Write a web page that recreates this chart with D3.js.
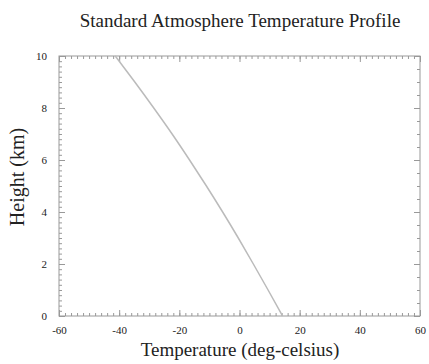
<!DOCTYPE html>
<html>
<head>
<meta charset="utf-8">
<script src="https://cdn.jsdelivr.net/npm/d3@7"></script>
<style>
  body { margin: 0; background: #fff; }
  text { font-family: "Liberation Serif", "Times New Roman", serif; fill: #222; }
</style>
</head>
<body>
<script>
// chart size
const width = 429;
const height = 364;

// data: height in km, temperature in deg C
const heights = [0, 1, 2, 3, 4, 5, 6, 7, 8, 9, 10];
const temps = [14.3, 9.5, 4.6, -0.4, -5.6, -11.0, -16.6, -22.4, -28.5, -34.8, -41.3];

// tick values
const xTicks = [-60, -40, -20, 0, 20, 40, 60];
const yTicks = [0, 2, 4, 6, 8, 10];

// plot box
const boxL = 59, boxR = 420, boxT = 56, boxB = 316;

let svg = d3.select("body").append("svg")
  .attr("width", width)
  .attr("height", height);

let x = d3.scaleLinear().domain([-60, 60]).range([boxL, boxR]);
let y = d3.scaleLinear().domain([0, 10]).range([boxB, boxT]);

// minor ticks
let xMinor = d3.range(-60, 60.01, 2);
let yMinorL = d3.range(0, 10.01, 0.2);
let yMinorR = d3.range(0, 10.01, 0.5);

// plain hyphen minus like the original
let fmt = d => String(d);

function styleAxis(g) {
  g.attr("font-family", "Liberation Serif").attr("font-size", 11);
  g.select(".domain").remove();
  g.selectAll("line").attr("stroke", "#999").attr("stroke-width", 1);
  g.selectAll("text").attr("fill", "#333");
}

// bottom axis with labels
svg.append("g")
  .attr("transform", "translate(0," + boxB + ")")
  .call(d3.axisBottom(x).tickValues(xMinor).tickSize(-3).tickFormat(""))
  .call(styleAxis);
svg.append("g")
  .attr("transform", "translate(0," + boxB + ")")
  .call(d3.axisBottom(x).tickValues(xTicks).tickSize(-6).tickPadding(10).tickFormat(fmt))
  .call(styleAxis);

// top axis
svg.append("g")
  .attr("transform", "translate(0," + boxT + ")")
  .call(d3.axisTop(x).tickValues(xMinor).tickSize(-3).tickFormat(""))
  .call(styleAxis);
svg.append("g")
  .attr("transform", "translate(0," + boxT + ")")
  .call(d3.axisTop(x).tickValues(xTicks).tickSize(-6).tickFormat(""))
  .call(styleAxis);

// left axis with labels
svg.append("g")
  .attr("transform", "translate(" + boxL + ",0)")
  .call(d3.axisLeft(y).tickValues(yMinorL).tickSize(-3).tickFormat(""))
  .call(styleAxis);
svg.append("g")
  .attr("transform", "translate(" + boxL + ",0)")
  .call(d3.axisLeft(y).tickValues(yTicks).tickSize(-6).tickPadding(12).tickFormat(fmt))
  .call(styleAxis);

// right axis
svg.append("g")
  .attr("transform", "translate(" + boxR + ",0)")
  .call(d3.axisRight(y).tickValues(yMinorR).tickSize(-3).tickFormat(""))
  .call(styleAxis);
svg.append("g")
  .attr("transform", "translate(" + boxR + ",0)")
  .call(d3.axisRight(y).tickValues(yTicks).tickSize(-6).tickFormat(""))
  .call(styleAxis);

// frame
svg.append("rect")
  .attr("x", boxL)
  .attr("y", boxT)
  .attr("width", boxR - boxL)
  .attr("height", boxB - boxT)
  .attr("fill", "none")
  .attr("stroke", "#999")
  .attr("stroke-width", 1);

// the profile line
let line = d3.line()
  .x((d, i) => x(temps[i]))
  .y(d => y(d))
  .curve(d3.curveNatural);

svg.append("path")
  .datum(heights)
  .attr("d", line)
  .attr("fill", "none")
  .attr("stroke", "#bbb")
  .attr("stroke-width", 1.5);

// titles
svg.append("text")
  .attr("x", 240)
  .attr("y", 27)
  .attr("text-anchor", "middle")
  .style("font-size", "19px")
  .text("Standard Atmosphere Temperature Profile");

svg.append("text")
  .attr("x", 240)
  .attr("y", 356)
  .attr("text-anchor", "middle")
  .style("font-size", "19px")
  .text("Temperature (deg-celsius)");

svg.append("text")
  .attr("transform", "translate(24,177) rotate(-90)")
  .attr("text-anchor", "middle")
  .style("font-size", "20px")
  .text("Height (km)");
</script>
</body>
</html>
